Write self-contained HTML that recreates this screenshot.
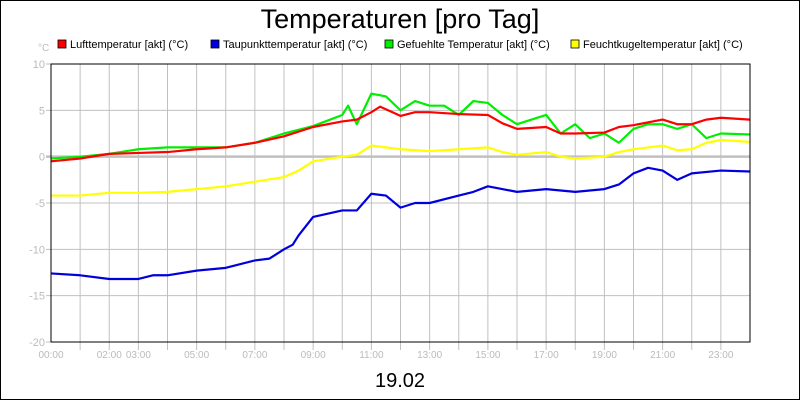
<!DOCTYPE html>
<html><head><meta charset="utf-8"><style>
body{margin:0;background:#fff}
svg{display:block;font-family:"Liberation Sans",sans-serif}
</style></head><body>
<svg id="chart" width="800" height="400">
<rect x="0.5" y="0.5" width="799" height="399" fill="#fff" stroke="#000"/>
<text x="400" y="28" font-size="27" text-anchor="middle">Temperaturen [pro Tag]</text>
<text x="38" y="51" font-size="10" fill="#bbb">°C</text>
<text x="400" y="387" font-size="20" text-anchor="middle">19.02</text>
<g id="legend"></g>
<g id="grid"></g><g id="series"></g><g id="axes"></g>
</svg>
<script>
const yTicks=[10,5,0,-5,-10,-15,-20];
const xTickHours=[0,2,3,5,7,9,11,13,15,17,19,21,23];
const xTickLabels=["00:00","02:00","03:00","05:00","07:00","09:00","11:00","13:00","15:00","17:00","19:00","21:00","23:00"];
const seriesNames=["Lufttemperatur [akt] (°C)","Taupunkttemperatur [akt] (°C)","Gefuehlte Temperatur [akt] (°C)","Feuchtkugeltemperatur [akt] (°C)"];
const seriesColors=["#ff0000","#0000dd","#00ee00","#ffff00"];
const luftT=[0,1,2,3,4,5,6,7,8,9,10,10.5,11,11.3,12,12.5,13,14,15,15.5,16,17,17.5,18,19,19.5,20,21,21.5,22,22.5,23,24];
const luftV=[-0.5,-0.2,0.3,0.4,0.5,0.8,1.0,1.5,2.2,3.2,3.8,4.0,4.8,5.4,4.4,4.8,4.8,4.6,4.5,3.6,3.0,3.2,2.5,2.5,2.6,3.2,3.4,4.0,3.5,3.5,4.0,4.2,4.0];
const tauT=[0,1,2,3,3.5,4,5,6,7,7.5,8,8.3,8.5,9,10,10.5,11,11.5,12,12.5,13,14,14.5,15,16,17,18,19,19.5,20,20.5,21,21.5,22,23,24];
const tauV=[-12.6,-12.8,-13.2,-13.2,-12.8,-12.8,-12.3,-12.0,-11.2,-11.0,-10.0,-9.5,-8.5,-6.5,-5.8,-5.8,-4.0,-4.2,-5.5,-5.0,-5.0,-4.2,-3.8,-3.2,-3.8,-3.5,-3.8,-3.5,-3.0,-1.8,-1.2,-1.5,-2.5,-1.8,-1.5,-1.6];
const gefT=[0,1,2,3,4,5,6,7,8,9,10,10.2,10.5,11,11.5,12,12.5,13,13.5,14,14.5,15,15.5,16,16.5,17,17.5,18,18.5,19,19.5,20,20.5,21,21.5,22,22.5,23,24];
const gefV=[-0.2,0,0.3,0.8,1.0,1.0,1.0,1.5,2.5,3.3,4.5,5.5,3.5,6.8,6.5,5.0,6.0,5.5,5.5,4.5,6.0,5.8,4.5,3.5,4.0,4.5,2.5,3.5,2.0,2.5,1.5,3.0,3.5,3.5,3.0,3.5,2.0,2.5,2.4];
const feuT=[0,1,2,3,4,5,6,7,8,8.5,9,10,10.5,11,11.5,12,13,14,15,15.5,16,17,17.5,18,19,19.5,20,21,21.5,22,22.5,23,24];
const feuV=[-4.2,-4.2,-3.9,-3.9,-3.8,-3.5,-3.2,-2.7,-2.2,-1.5,-0.5,0,0.2,1.2,1.0,0.8,0.6,0.8,1.0,0.5,0.2,0.5,0,-0.2,0,0.5,0.8,1.2,0.7,0.8,1.5,1.8,1.6];
const X0=51,X1=750,Y0=64,Y1=342;
const xs=h=>X0+h*(X1-X0)/24;
const ys=v=>Y0+(10-v)*(Y1-Y0)/30;
const NS="http://www.w3.org/2000/svg";
function mk(tag,parent,attrs){const e=document.createElementNS(NS,tag);for(const k in attrs)e.setAttribute(k,attrs[k]);parent.appendChild(e);return e;}
const grid=document.getElementById('grid'),axes=document.getElementById('axes'),ser=document.getElementById('series'),leg=document.getElementById('legend');
for(let h=1;h<24;h++){const l=mk('line',grid,{x1:xs(h),x2:xs(h),y1:Y0,y2:Y1+8,stroke:'#c0c0c0'});

}
yTicks.forEach(v=>{const l=mk('line',grid,{x1:X0-5,x2:X1,y1:ys(v),y2:ys(v),stroke:'#c0c0c0','stroke-width':v===0?2.5:1});


const t=mk('text',axes,{x:X0-6,y:ys(v)+4,'font-size':11,fill:'#bbb','text-anchor':'end'});t.textContent=v;

});
xTickHours.forEach((h,i)=>{const t=mk('text',axes,{x:xs(h),y:358,'font-size':10,fill:'#bbb','text-anchor':'middle'});t.textContent=xTickLabels[i];

});
const fr=mk('path',axes,{d:`M${X0},${Y0}H${X1}V${Y1}H${X0}Z`,fill:'none',stroke:'#000'});


const data=[[luftT,luftV],[tauT,tauV],[gefT,gefV],[feuT,feuV]];
const order=[3,1,2,0];
order.forEach(i=>{const [T,V]=data[i];
const p=mk('polyline',ser,{points:T.map((t,j)=>xs(t)+','+ys(V[j])).join(' '),fill:'none',stroke:seriesColors[i],'stroke-width':2.2,'stroke-linejoin':'round'});

});
const legX=[58,211,385,571];
seriesNames.forEach((n,i)=>{const r=mk('rect',leg,{x:legX[i],y:40,width:8,height:8,fill:seriesColors[i],stroke:'#000','stroke-width':0.8});


const t=mk('text',leg,{x:legX[i]+12,y:48,'font-size':11});t.textContent=n;

});
</script>
</body></html>
